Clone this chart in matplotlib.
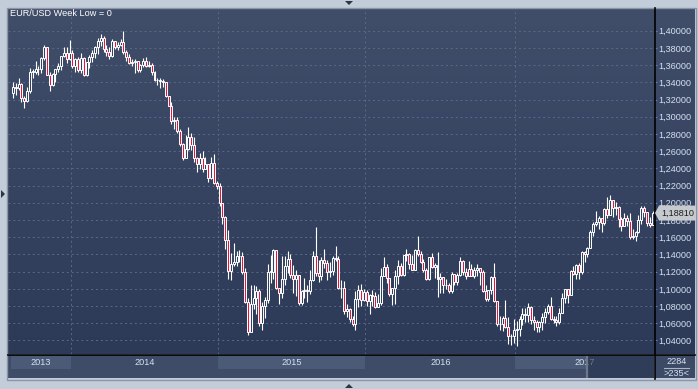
import numpy as np
import pandas as pd
import matplotlib
matplotlib.use("Agg")
import matplotlib.pyplot as plt
from matplotlib.colors import LinearSegmentedColormap
from matplotlib.patches import Polygon, Rectangle
from matplotlib.lines import Line2D
import matplotlib.transforms as mtransforms

# EUR/USD weekly candles (close / high / low)
open_first = 1.3280

close_2013 = [1.3345, 1.3330, 1.3380, 1.3215, 1.3180, 1.3295, 1.3525, 1.3525, 1.3555, 1.3550, 1.3685,
              1.3805, 1.3485, 1.3365, 1.3495, 1.3555, 1.3590, 1.3705, 1.3740, 1.3675, 1.3740]
high_2013 = [1.3400, 1.3390, 1.3450, 1.3395, 1.3240, 1.3340, 1.3570, 1.3560, 1.3645, 1.3590, 1.3700,
             1.3830, 1.3815, 1.3525, 1.3505, 1.3560, 1.3620, 1.3710, 1.3810, 1.3810, 1.3895]
low_2013 = [1.3220, 1.3255, 1.3310, 1.3175, 1.3105, 1.3170, 1.3280, 1.3455, 1.3500, 1.3480, 1.3510,
            1.3660, 1.3480, 1.3295, 1.3360, 1.3400, 1.3520, 1.3545, 1.3690, 1.3625, 1.3660]

close_2014 = [1.3590, 1.3670, 1.3540, 1.3680, 1.3485, 1.3635, 1.3690, 1.3740, 1.3805, 1.3875, 1.3910,
              1.3790, 1.3750, 1.3705, 1.3885, 1.3810, 1.3830, 1.3870, 1.3755, 1.3695, 1.3630, 1.3635,
              1.3645, 1.3540, 1.3605, 1.3645, 1.3595, 1.3605, 1.3525, 1.3430, 1.3425, 1.3410, 1.3400,
              1.3240, 1.3130, 1.2950, 1.2960, 1.2830, 1.2680, 1.2520, 1.2625, 1.2760, 1.2670, 1.2525,
              1.2455, 1.2525, 1.2390, 1.2450, 1.2290, 1.2465, 1.2230, 1.2190]
high_2014 = [1.3775, 1.3685, 1.3690, 1.3740, 1.3690, 1.3640, 1.3715, 1.3775, 1.3825, 1.3915, 1.3965,
             1.3935, 1.3835, 1.3810, 1.3905, 1.3860, 1.3865, 1.3905, 1.3995, 1.3775, 1.3735, 1.3670,
             1.3670, 1.3650, 1.3615, 1.3680, 1.3700, 1.3645, 1.3620, 1.3530, 1.3445, 1.3445, 1.3435,
             1.3395, 1.3235, 1.3175, 1.2995, 1.3000, 1.2860, 1.2700, 1.2790, 1.2885, 1.2810, 1.2770,
             1.2535, 1.2575, 1.2600, 1.2530, 1.2455, 1.2530, 1.2570, 1.2250]
low_2014 = [1.3570, 1.3520, 1.3525, 1.3505, 1.3475, 1.3475, 1.3570, 1.3640, 1.3685, 1.3735, 1.3820,
            1.3750, 1.3705, 1.3670, 1.3700, 1.3790, 1.3780, 1.3820, 1.3735, 1.3645, 1.3615, 1.3585,
            1.3505, 1.3515, 1.3520, 1.3575, 1.3580, 1.3575, 1.3490, 1.3420, 1.3365, 1.3335, 1.3340,
            1.3235, 1.3125, 1.2920, 1.2860, 1.2815, 1.2665, 1.2500, 1.2585, 1.2615, 1.2615, 1.2480,
            1.2360, 1.2395, 1.2360, 1.2405, 1.2245, 1.2275, 1.2220, 1.2165]

close_2015 = [1.2000, 1.1840, 1.1565, 1.1205, 1.1290, 1.1315, 1.1385, 1.1380, 1.1195, 1.0845, 1.0495,
              1.0825, 1.0890, 1.0970, 1.0600, 1.0805, 1.0870, 1.1200, 1.1200, 1.1450, 1.1015, 1.0955,
              1.1110, 1.1260, 1.1350, 1.1165, 1.1110, 1.1165, 1.0830, 1.0980, 1.0985, 1.0970, 1.1105,
              1.1385, 1.1185, 1.1150, 1.1340, 1.1300, 1.1195, 1.1210, 1.1355, 1.1350, 1.1015, 1.1005,
              1.0740, 1.0770, 1.0645, 1.0590, 1.0885, 1.0990, 1.0865, 1.0965]
high_2015 = [1.2225, 1.1970, 1.1845, 1.1680, 1.1420, 1.1535, 1.1445, 1.1450, 1.1425, 1.1245, 1.0890,
             1.1045, 1.1050, 1.1035, 1.1000, 1.0850, 1.0900, 1.1290, 1.1390, 1.1465, 1.1445, 1.1010,
             1.1385, 1.1385, 1.1435, 1.1410, 1.1280, 1.1215, 1.1130, 1.0990, 1.1125, 1.1045, 1.1215,
             1.1440, 1.1715, 1.1330, 1.1365, 1.1460, 1.1330, 1.1315, 1.1385, 1.1495, 1.1385, 1.1105,
             1.1095, 1.0825, 1.0780, 1.0680, 1.0980, 1.1045, 1.1060, 1.0995]
low_2015 = [1.1960, 1.1755, 1.1460, 1.1115, 1.1100, 1.1260, 1.1270, 1.1315, 1.1175, 1.0840, 1.0460,
            1.0500, 1.0765, 1.0710, 1.0565, 1.0520, 1.0665, 1.0840, 1.1070, 1.1110, 1.1000, 1.0820,
            1.0890, 1.1050, 1.1185, 1.1130, 1.0955, 1.0915, 1.0810, 1.0810, 1.0890, 1.0850, 1.0935,
            1.1090, 1.1155, 1.1085, 1.1105, 1.1245, 1.1105, 1.1135, 1.1165, 1.1325, 1.1000, 1.0895,
            1.0705, 1.0675, 1.0615, 1.0565, 1.0525, 1.0795, 1.0805, 1.0860]

close_2016 = [1.0860, 1.0925, 1.0915, 1.0795, 1.0830, 1.1155, 1.1255, 1.1130, 1.0935, 1.1005, 1.1155,
              1.1270, 1.1165, 1.1390, 1.1400, 1.1285, 1.1225, 1.1455, 1.1405, 1.1310, 1.1225, 1.1115,
              1.1365, 1.1250, 1.1275, 1.1115, 1.1135, 1.1050, 1.1040, 1.0975, 1.1175, 1.1085, 1.1160,
              1.1325, 1.1200, 1.1155, 1.1230, 1.1155, 1.1225, 1.1240, 1.1200, 1.0970, 1.0885, 1.0985,
              1.1140, 1.0855, 1.0590, 1.0590, 1.0665, 1.0560, 1.0450, 1.0455, 1.0520]
high_2016 = [1.0985, 1.0940, 1.0985, 1.0960, 1.0945, 1.1245, 1.1375, 1.1285, 1.1070, 1.1010, 1.1220,
             1.1340, 1.1300, 1.1395, 1.1465, 1.1415, 1.1395, 1.1460, 1.1615, 1.1445, 1.1345, 1.1240,
             1.1375, 1.1415, 1.1300, 1.1430, 1.1185, 1.1120, 1.1120, 1.1070, 1.1200, 1.1165, 1.1190,
             1.1365, 1.1340, 1.1240, 1.1325, 1.1285, 1.1255, 1.1285, 1.1245, 1.1215, 1.1040, 1.0990,
             1.1145, 1.1300, 1.0830, 1.0690, 1.0680, 1.0875, 1.0670, 1.0480, 1.0655]
low_2016 = [1.0800, 1.0710, 1.0805, 1.0775, 1.0810, 1.0810, 1.1150, 1.1065, 1.0920, 1.0810, 1.0825,
            1.1055, 1.1145, 1.1145, 1.1325, 1.1235, 1.1215, 1.1215, 1.1385, 1.1300, 1.1195, 1.1100,
            1.1100, 1.1245, 1.1130, 1.0910, 1.0950, 1.0950, 1.1000, 1.0950, 1.0950, 1.1045, 1.1045,
            1.1150, 1.1160, 1.1120, 1.1150, 1.1145, 1.1125, 1.1150, 1.1045, 1.0965, 1.0860, 1.0855,
            1.0945, 1.0850, 1.0570, 1.0520, 1.0505, 1.0550, 1.0365, 1.0350, 1.0375]

close_2017 = [1.0530, 1.0645, 1.0705, 1.0695, 1.0785, 1.0640, 1.0615, 1.0560, 1.0620, 1.0670, 1.0735,
              1.0800, 1.0650, 1.0640, 1.0615, 1.0725, 1.0895, 1.0995, 1.0930, 1.1205, 1.1170, 1.1280,
              1.1195, 1.1425, 1.1400, 1.1470, 1.1665, 1.1750, 1.1775, 1.1820, 1.1760, 1.1925, 1.1860,
              1.2035, 1.1945, 1.1950, 1.1815, 1.1730, 1.1820, 1.1785, 1.1605, 1.1610, 1.1665, 1.1795,
              1.1935, 1.1895, 1.1770, 1.1745, 1.1881]
high_2017 = [1.0625, 1.0685, 1.0775, 1.0775, 1.0830, 1.0800, 1.0680, 1.0635, 1.0630, 1.0715, 1.0780,
             1.0820, 1.0905, 1.0690, 1.0680, 1.0775, 1.0950, 1.1000, 1.0995, 1.1215, 1.1270, 1.1285,
             1.1295, 1.1445, 1.1445, 1.1490, 1.1680, 1.1775, 1.1910, 1.1845, 1.1825, 1.1940, 1.2070,
             1.2090, 1.2030, 1.2005, 1.1960, 1.1830, 1.1880, 1.1860, 1.1880, 1.1690, 1.1670, 1.1860,
             1.1960, 1.1960, 1.1865, 1.1830, 1.1905]
low_2017 = [1.0340, 1.0455, 1.0580, 1.0620, 1.0620, 1.0590, 1.0520, 1.0495, 1.0495, 1.0525, 1.0605,
            1.0705, 1.0640, 1.0605, 1.0570, 1.0595, 1.0820, 1.0840, 1.0840, 1.0935, 1.1165, 1.1110,
            1.1120, 1.1170, 1.1310, 1.1370, 1.1475, 1.1610, 1.1730, 1.1690, 1.1660, 1.1740, 1.1825,
            1.1860, 1.1835, 1.1860, 1.1720, 1.1670, 1.1730, 1.1730, 1.1575, 1.1575, 1.1555, 1.1650,
            1.1755, 1.1830, 1.1730, 1.1720, 1.1745]

# the feed has two June 2017 weeks folded into one candle
dates = pd.date_range("2013-08-09", "2017-12-22", freq="W-FRI")
dates = dates.drop(pd.to_datetime(["2017-06-09", "2017-06-16"]))

price_ticks = [1.04, 1.06, 1.08, 1.10, 1.12, 1.14, 1.16, 1.18, 1.20, 1.22, 1.24, 1.26, 1.28,
               1.30, 1.32, 1.34, 1.36, 1.38, 1.40]
title = "EUR/USD Week Low = 0"
bars_total = "2284"
bars_shown = ">235<"

close = np.array(close_2013 + close_2014 + close_2015 + close_2016 + close_2017)
high = np.array(high_2013 + high_2014 + high_2015 + high_2016 + high_2017)
low = np.array(low_2013 + low_2014 + low_2015 + low_2016 + low_2017)
opens = np.concatenate([[open_first], close[:-1]])
high = np.maximum(high, np.maximum(opens, close))
low = np.minimum(low, np.minimum(opens, close))
n = len(close)
x = np.arange(n)

# ---- layout in pixels ----
W, H = 698, 389


def fx(px):
    return px / W


def fy(py):
    return 1 - py / H


plt.rcParams["font.family"] = ["Liberation Sans", "DejaVu Sans"]
FS = 6.6
TXT = "#d5e0f0"

fig = plt.figure(figsize=(W / 100, H / 100), dpi=100, facecolor="#c3ccd9")

# gradient behind the chart and the price scale
bg = fig.add_axes([fx(8), fy(354), (695 - 8) / W, (354 - 8) / H])
cmap = LinearSegmentedColormap.from_list("bg", ["#414e6a", "#2c3a58"])
bg.imshow(np.linspace(0, 1, 256).reshape(-1, 1), aspect="auto", cmap=cmap,
          extent=[0, 1, 0, 1], origin="upper")
bg.set_axis_off()

ax = fig.add_axes([fx(8), fy(354), 646 / W, 346 / H])
ax.patch.set_alpha(0)
x_first_px, step_px = 13, 2.83
xlim = ((8 - x_first_px) / step_px, (654 - x_first_px) / step_px)
ax.set_xlim(*xlim)
ax.set_ylim(1.02431, 1.42638)
for s in ax.spines.values():
    s.set_visible(False)

# year boundaries (first candle of each year)
years = dates.year
starts = [0] + [i for i in range(1, n) if years[i] != years[i - 1]]
bounds = [s - 0.5 for s in starts[1:]]

grid_kw = dict(color="#5b6985", lw=0.7, ls=(0, (2, 3)), zorder=0)
for v in price_ticks:
    ax.axhline(v, **grid_kw)
for b in bounds:
    ax.axvline(b, **grid_kw)

# candles
up = close >= opens
body_lo = np.minimum(opens, close)
body_h = np.maximum(np.abs(close - opens), 0.0005)
ax.vlines(x, low, high, color="white", lw=0.8, zorder=2)
ax.bar(x[up], body_h[up], bottom=body_lo[up], width=0.7, color="#34425f",
       edgecolor="white", linewidth=0.7, zorder=3)
ax.bar(x[~up], body_h[~up], bottom=body_lo[~up], width=0.7, color="#e3173e",
       edgecolor="white", linewidth=0.7, zorder=3)

# price scale
ax.yaxis.tick_right()
ax.set_yticks(price_ticks)
ax.set_yticklabels([f"{v:.5f}".replace(".", ",") for v in price_ticks])
ax.tick_params(axis="y", length=2.2, width=0.8, color="#4f7fd0", labelcolor=TXT,
               labelsize=FS, pad=1.2)
ax.set_xticks([])

fig.text(fx(10), fy(14), title, color="white", fontsize=FS, ha="left", va="center")

# last price tag
last = close[-1]
half = 7.5 / 860.6
blend = mtransforms.blended_transform_factory(fig.transFigure, ax.transData)
tag = Polygon([(fx(655), last), (fx(659), last + half), (fx(696), last + half),
               (fx(696), last - half), (fx(659), last - half)],
              closed=True, transform=blend, fc="#c6cacf", ec="none", zorder=5)
fig.add_artist(tag)
fig.text(fx(677.5), last, f"{last:.5f}".replace(".", ","), transform=blend,
         color="#1c1c1c", fontsize=FS, ha="center", va="center", zorder=6)

# time strip
axb = fig.add_axes([fx(8), fy(378), 646 / W, 23 / H])
axb.set_facecolor("#3e4c68")
axb.set_xlim(*xlim)
axb.set_ylim(0, 1)
axb.set_xticks([])
axb.set_yticks([])
for s in axb.spines.values():
    s.set_visible(False)

thumb = xlim[0] + (587 - 8) / 646 * (xlim[1] - xlim[0])
edges = [xlim[0] + 1] + bounds + [xlim[1]]
for k, yr in enumerate(sorted(set(years))):
    a, b = edges[k], edges[k + 1]
    if k % 2 == 0:
        axb.fill_between([a, min(b, thumb)], 0.39, 0.957, color="#4b5a76", lw=0, zorder=1)
    axb.text((max(a, xlim[0]) + b) / 2, 0.67, str(yr), color=TXT, fontsize=FS,
             ha="center", va="center", zorder=2)
axb.fill_between([thumb, xlim[1]], 0, 0.957, color="#27344f", alpha=0.6, lw=0, zorder=3)
axb.axvline(thumb, ymax=0.957, color="#6f7789", lw=1.6, zorder=4)

# bar counter box
fig.patches.append(Rectangle((fx(655), fy(378)), 40 / W, 23 / H, transform=fig.transFigure,
                             fc="#3d4a66", ec="none"))
fig.text(fx(677), fy(361.5), bars_total, color=TXT, fontsize=FS, ha="center", va="center")
fig.text(fx(677), fy(374), bars_shown, color=TXT, fontsize=FS, ha="center", va="center")
fig.add_artist(Line2D([fx(664), fx(689)], [fy(367.5), fy(367.5)], color="#aab5c8", lw=0.8))

# separators and frame
fig.add_artist(Line2D([fx(654.5), fx(654.5)], [fy(8), fy(379)], color="black", lw=1.2))
fig.add_artist(Line2D([fx(8), fx(695)], [fy(354.5), fy(354.5)], color="black", lw=1.2))
fig.patches.append(Rectangle((fx(7.5), fy(379.5)), (696 - 7.5) / W, (379.5 - 7.5) / H,
                             transform=fig.transFigure, fc="none", ec="#8a95a8", lw=1))

# scroll arrows
arrow_kw = dict(closed=True, transform=fig.transFigure, fc="#2e3440", ec="none")
fig.add_artist(Polygon([(fx(345), fy(1)), (fx(353), fy(1)), (fx(349), fy(5))], **arrow_kw))
fig.add_artist(Polygon([(fx(345), fy(388)), (fx(353), fy(388)), (fx(349), fy(384))], **arrow_kw))
fig.add_artist(Polygon([(fx(1), fy(190)), (fx(1), fy(198)), (fx(5), fy(194))], **arrow_kw))

fig.savefig("out.png", dpi=100, facecolor=fig.get_facecolor())
